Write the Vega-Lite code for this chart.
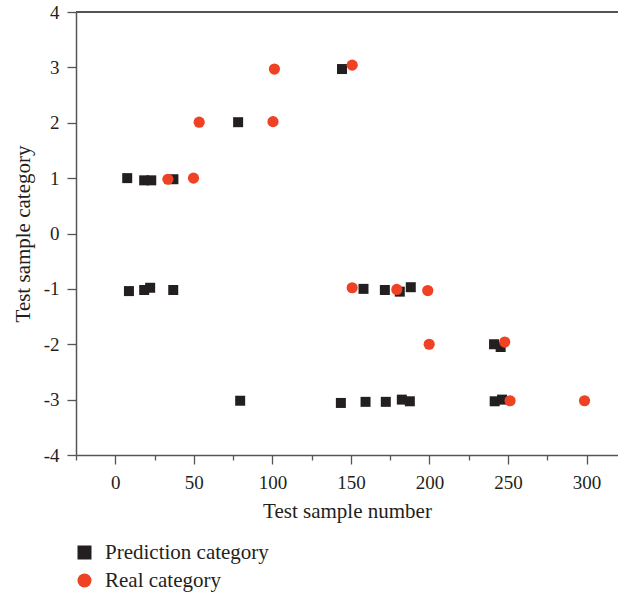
{
  "$schema": "https://vega.github.io/schema/vega-lite/v6.json",
  "width": 542,
  "height": 443,
  "autosize": {"type": "none"},
  "padding": {"left": 76, "top": 12, "right": 0, "bottom": 138},
  "background": "white",
  "data": {
    "values": [
      {"sample": 7.6, "category": 1.0, "type": "Prediction category"},
      {"sample": 18.4, "category": 0.96, "type": "Prediction category"},
      {"sample": 22.9, "category": 0.96, "type": "Prediction category"},
      {"sample": 37, "category": 0.98, "type": "Prediction category"},
      {"sample": 78.2, "category": 2.01, "type": "Prediction category"},
      {"sample": 144.3, "category": 2.97, "type": "Prediction category"},
      {"sample": 8.7, "category": -1.04, "type": "Prediction category"},
      {"sample": 18.4, "category": -1.02, "type": "Prediction category"},
      {"sample": 22.2, "category": -0.98, "type": "Prediction category"},
      {"sample": 36.9, "category": -1.02, "type": "Prediction category"},
      {"sample": 158, "category": -1.0, "type": "Prediction category"},
      {"sample": 171.6, "category": -1.02, "type": "Prediction category"},
      {"sample": 181.1, "category": -1.05, "type": "Prediction category"},
      {"sample": 188.1, "category": -0.97, "type": "Prediction category"},
      {"sample": 241.1, "category": -2.0, "type": "Prediction category"},
      {"sample": 245.3, "category": -2.05, "type": "Prediction category"},
      {"sample": 79.5, "category": -3.02, "type": "Prediction category"},
      {"sample": 143.6, "category": -3.06, "type": "Prediction category"},
      {"sample": 159.3, "category": -3.04, "type": "Prediction category"},
      {"sample": 172.2, "category": -3.04, "type": "Prediction category"},
      {"sample": 182.4, "category": -3.0, "type": "Prediction category"},
      {"sample": 187.5, "category": -3.03, "type": "Prediction category"},
      {"sample": 241.5, "category": -3.03, "type": "Prediction category"},
      {"sample": 246.2, "category": -3.0, "type": "Prediction category"},
      {"sample": 33.5, "category": 0.98, "type": "Real category"},
      {"sample": 49.8, "category": 1.0, "type": "Real category"},
      {"sample": 53.4, "category": 2.01, "type": "Real category"},
      {"sample": 101.3, "category": 2.97, "type": "Real category"},
      {"sample": 100.4, "category": 2.02, "type": "Real category"},
      {"sample": 150.8, "category": 3.04, "type": "Real category"},
      {"sample": 150.8, "category": -0.98, "type": "Real category"},
      {"sample": 179.2, "category": -1.01, "type": "Real category"},
      {"sample": 198.9, "category": -1.03, "type": "Real category"},
      {"sample": 199.8, "category": -2.0, "type": "Real category"},
      {"sample": 247.9, "category": -1.96, "type": "Real category"},
      {"sample": 251.3, "category": -3.02, "type": "Real category"},
      {"sample": 298.7, "category": -3.02, "type": "Real category"}
    ]
  },
  "layer": [
    {
      "mark": {"type": "rule", "color": "#555555", "strokeWidth": 1.5},
      "encoding": {"y": {"datum": 4, "type": "quantitative"}}
    },
    {
      "mark": {"type": "point", "filled": true, "opacity": 1},
      "encoding": {
        "x": {
          "field": "sample",
          "type": "quantitative",
          "scale": {"domain": [-25, 320], "nice": false, "zero": false},
          "axis": {
            "title": "Test sample number",
            "values": [-25, 0, 25, 50, 75, 100, 125, 150, 175, 200, 225, 250, 275, 300],
            "labelExpr": "datum.value % 50 === 0 ? '' + datum.value : ''",
            "tickSize": {"condition": {"test": "datum.value % 50 === 0", "value": 9}, "value": 5},
            "labelPadding": 9,
            "titleY": 45
          }
        },
        "y": {
          "field": "category",
          "type": "quantitative",
          "scale": {"domain": [-4, 4], "nice": false, "zero": false},
          "axis": {
            "title": "Test sample category",
            "values": [-4, -3.5, -3, -2.5, -2, -1.5, -1, -0.5, 0, 0.5, 1, 1.5, 2, 2.5, 3, 3.5, 4],
            "labelExpr": "datum.value % 1 === 0 ? '' + datum.value : ''",
            "tickSize": {"condition": {"test": "datum.value % 1 === 0", "value": 9}, "value": 5},
            "labelPadding": 8,
            "titleX": -43
          }
        },
        "shape": {
          "field": "type",
          "type": "nominal",
          "scale": {"domain": ["Prediction category", "Real category"], "range": ["square", "circle"]}
        },
        "color": {
          "field": "type",
          "type": "nominal",
          "scale": {"domain": ["Prediction category", "Real category"], "range": ["#231f20", "#ef4123"]}
        },
        "size": {
          "field": "type",
          "type": "nominal",
          "scale": {"domain": ["Prediction category", "Real category"], "range": [100, 125]},
          "legend": null
        }
      }
    }
  ],
  "resolve": {"legend": {"size": "independent"}},
  "config": {
    "view": {"stroke": null},
    "font": "Liberation Serif",
    "axis": {
      "domainColor": "#555555",
      "domainWidth": 1.5,
      "tickColor": "#555555",
      "tickWidth": 1.3,
      "grid": false,
      "labelFont": "Liberation Serif",
      "titleFont": "Liberation Serif",
      "labelColor": "#231f20",
      "titleColor": "#231f20",
      "labelFontSize": 19,
      "titleFontSize": 21,
      "titleFontWeight": "normal"
    },
    "legend": {
      "orient": "none",
      "legendX": -2,
      "legendY": 530,
      "title": null,
      "labelFont": "Liberation Serif",
      "labelFontSize": 21,
      "labelColor": "#231f20",
      "labelLimit": 0,
      "symbolSize": 196,
      "rowPadding": 6,
      "labelOffset": 10,
      "padding": 0
    }
  }
}
